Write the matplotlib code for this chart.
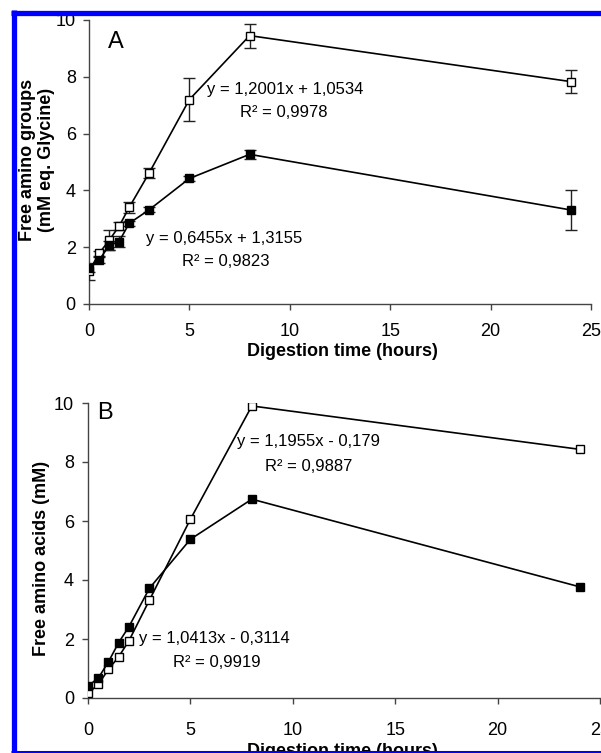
import numpy as np
import matplotlib
matplotlib.use("Agg")
import matplotlib.pyplot as plt
from matplotlib.lines import Line2D

plt.rcParams['font.family'] = ['Liberation Sans', 'DejaVu Sans']

# Data panel A (free amino groups)
hours = [0, 0.5, 1, 1.5, 2, 3, 5, 8, 24]
a_open = [1.15, 1.78, 2.24, 2.74, 3.40, 4.62, 7.20, 9.45, 7.83]
a_open_err = [0.30, 0.10, 0.35, 0.15, 0.20, 0.18, 0.75, 0.42, 0.40]
a_fill = [1.26, 1.54, 2.06, 2.20, 2.84, 3.32, 4.42, 5.27, 3.31]
a_fill_err = [0.15, 0.10, 0.15, 0.20, 0.10, 0.08, 0.08, 0.15, 0.70]

# Data panel B (free amino acids)
b_open = [0.16, 0.46, 0.97, 1.40, 1.94, 3.32, 6.06, 9.90, 8.43]
b_fill = [0.41, 0.67, 1.23, 1.88, 2.42, 3.72, 5.38, 6.74, 3.77]

W, H = 601, 753
fig = plt.figure(figsize=(W / 100, H / 100), dpi=100)

TICK_FS = 13
LAB_FS = 13
EQ_FS = 12


def px_axes(l, r, top, bot):
    return fig.add_axes([l / W, 1 - bot / H, (r - l) / W, (bot - top) / H])


def style(ax, xpad, ypad):
    for s in ['top', 'right']:
        ax.spines[s].set_visible(False)
    for s in ['left', 'bottom']:
        ax.spines[s].set_color('#444444')
        ax.spines[s].set_linewidth(1.0)
    ax.set_xlim(0, 25)
    ax.set_ylim(0, 10)
    ax.set_xticks([0, 5, 10, 15, 20, 25])
    ax.set_yticks([0, 2, 4, 6, 8, 10])
    ax.tick_params(axis='x', direction='out', length=4, width=1, color='#444444',
                   labelsize=TICK_FS, pad=xpad)
    ax.tick_params(axis='y', direction='out', length=4, width=1, color='#444444',
                   labelsize=TICK_FS, pad=ypad)
    ax.patch.set_alpha(0)


# Panel A
ax1 = px_axes(89, 591, 20, 304)
style(ax1, 10, 5.5)
ax1.errorbar(hours, a_open, yerr=a_open_err, color='black', lw=1.2,
             marker='s', ms=6, mfc='white', mec='black', mew=1,
             ecolor='#222222', elinewidth=1, capsize=4, capthick=1, zorder=3)
ax1.errorbar(hours, a_fill, yerr=a_fill_err, color='black', lw=1.2,
             marker='s', ms=6, mfc='black', mec='black',
             ecolor='#222222', elinewidth=1, capsize=4, capthick=1, zorder=3)
ax1.text(5.88, 7.57, 'y = 1,2001x + 1,0534', fontsize=EQ_FS, va='center', ha='left')
ax1.text(7.52, 6.73, 'R² = 0,9978', fontsize=EQ_FS, va='center', ha='left')
ax1.text(2.84, 2.29, 'y = 0,6455x + 1,3155', fontsize=EQ_FS, va='center', ha='left')
ax1.text(4.63, 1.48, 'R² = 0,9823', fontsize=EQ_FS, va='center', ha='left')
ax1.text(0.95, 9.23, 'A', fontsize=17, va='center', ha='left')
fig.text(342 / W, 1 - 352 / H, 'Digestion time (hours)', fontsize=LAB_FS,
         fontweight='bold', ha='center', va='center')
fig.text(37 / W, 1 - 160 / H, 'Free amino groups\n(mM eq. Glycine)', fontsize=LAB_FS,
         fontweight='bold', ha='center', va='center', rotation=90, linespacing=1.1)

# Panel B
ax2 = px_axes(88, 600, 403, 698)
style(ax2, 13, 6)
ax2.plot(hours, b_open, color='black', lw=1.2, marker='s', ms=6,
         mfc='white', mec='black', mew=1, zorder=3)
ax2.plot(hours, b_fill, color='black', lw=1.2, marker='s', ms=6,
         mfc='black', mec='black', zorder=3)
ax2.text(7.28, 8.69, 'y = 1,1955x - 0,179', fontsize=EQ_FS, va='center', ha='left')
ax2.text(8.64, 7.84, 'R² = 0,9887', fontsize=EQ_FS, va='center', ha='left')
ax2.text(2.49, 2.03, 'y = 1,0413x - 0,3114', fontsize=EQ_FS, va='center', ha='left')
ax2.text(4.15, 1.19, 'R² = 0,9919', fontsize=EQ_FS, va='center', ha='left')
ax2.text(0.44, 9.66, 'B', fontsize=17, va='center', ha='left')
fig.text(342 / W, 1 - 752 / H, 'Digestion time (hours)', fontsize=LAB_FS,
         fontweight='bold', ha='center', va='center')
fig.text(42 / W, 1 - 558 / H, 'Free amino acids (mM)', fontsize=LAB_FS,
         fontweight='bold', ha='center', va='center', rotation=90)

# blue frame
blue = '#0000ff'
fig.add_artist(Line2D([13.5 / W, 13.5 / W], [0, 1 - 10 / H], color=blue, lw=3.8,
                      transform=fig.transFigure, solid_capstyle='butt', zorder=10))
fig.add_artist(Line2D([11 / W, 1], [1 - 12.5 / H, 1 - 12.5 / H], color=blue, lw=3.8,
                      transform=fig.transFigure, solid_capstyle='butt', zorder=10))
fig.add_artist(Line2D([11 / W, 1], [1 - 751.5 / H, 1 - 751.5 / H], color=blue, lw=2.2,
                      transform=fig.transFigure, solid_capstyle='butt', zorder=10))

fig.savefig('out.png', dpi=100)
